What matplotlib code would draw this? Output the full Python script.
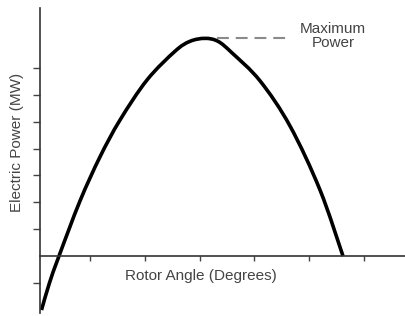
import matplotlib
matplotlib.use("Agg")
import matplotlib.pyplot as plt
from matplotlib.path import Path
from matplotlib.patches import PathPatch

# curve: rotor angle (deg) vs electric power (tick units)
angle = [3.45, 7.72, 13.03, 24.53, 35.47, 46.42, 61.2, 76.53, 84.75, 92.96,
         100.07, 107.74, 123.07, 139.49, 155.91, 168.5]
power = [-2.01, -1.02, 0.0, 2.05, 3.69, 5.06, 6.55, 7.62, 7.99, 8.10,
         7.99, 7.56, 6.52, 4.84, 2.46, 0.0]

max_power = 8.1
max_line_x = [99.5, 140.6]
x_ticks = [30, 60, 90, 120, 150, 180]
y_ticks = [-1, 1, 2, 3, 4, 5, 6, 7]

plt.rcParams['font.family'] = ['Liberation Sans', 'DejaVu Sans']


def smooth_path(xs, ys):
    # catmull-rom through the read points, drawn as bezier segments
    pts = list(zip(xs, ys))
    verts = [pts[0]]
    codes = [Path.MOVETO]
    n = len(pts)
    for i in range(n - 1):
        p0 = pts[max(i - 1, 0)]
        p1 = pts[i]
        p2 = pts[i + 1]
        p3 = pts[min(i + 2, n - 1)]
        c1 = (p1[0] + (p2[0] - p0[0]) / 6, p1[1] + (p2[1] - p0[1]) / 6)
        c2 = (p2[0] - (p3[0] - p1[0]) / 6, p2[1] - (p3[1] - p1[1]) / 6)
        verts += [c1, c2, p2]
        codes += [Path.CURVE4] * 3
    return Path(verts, codes)


fig = plt.figure(figsize=(4.06, 3.16), dpi=100)
ax = fig.add_axes([40 / 406, 3 / 316, 366 / 406, 305 / 316])

ax.add_patch(PathPatch(smooth_path(angle, power), fill=False, color='black',
                       lw=2.6, capstyle='butt', joinstyle='round'))
ax.plot(max_line_x, [max_power, max_power], color='#8a8a8a', lw=1.5,
        dashes=(5.7, 3.3))

ax.set_xlim(2.63, 203)
ax.set_ylim(-2.12, 9.23)

for s in ['top', 'right']:
    ax.spines[s].set_visible(False)
ax.spines['bottom'].set_position(('data', 0))
for s in ['left', 'bottom']:
    ax.spines[s].set_color('#333333')
    ax.spines[s].set_linewidth(1.2)

ax.set_xticks(x_ticks)
ax.set_yticks(y_ticks)
ax.set_xticklabels([])
ax.set_yticklabels([])
ax.tick_params(axis='x', direction='out', length=3.5, width=1, color='#444444')
ax.tick_params(axis='y', direction='out', length=5, width=1, color='#444444')

fig.text(17 / 406, 1 - 142 / 316, 'Electric Power (MW)', rotation=90,
         ha='center', va='center', fontsize=11, color='#444444')
fig.text(201 / 406, 1 - 276 / 316, 'Rotor Angle (Degrees)',
         ha='center', va='center', fontsize=11, color='#444444')
fig.text(333 / 406, 1 - 36 / 316, 'Maximum\nPower', ha='center', va='center',
         fontsize=11, color='#444444', linespacing=1.05)

fig.savefig('out.png', dpi=100)
